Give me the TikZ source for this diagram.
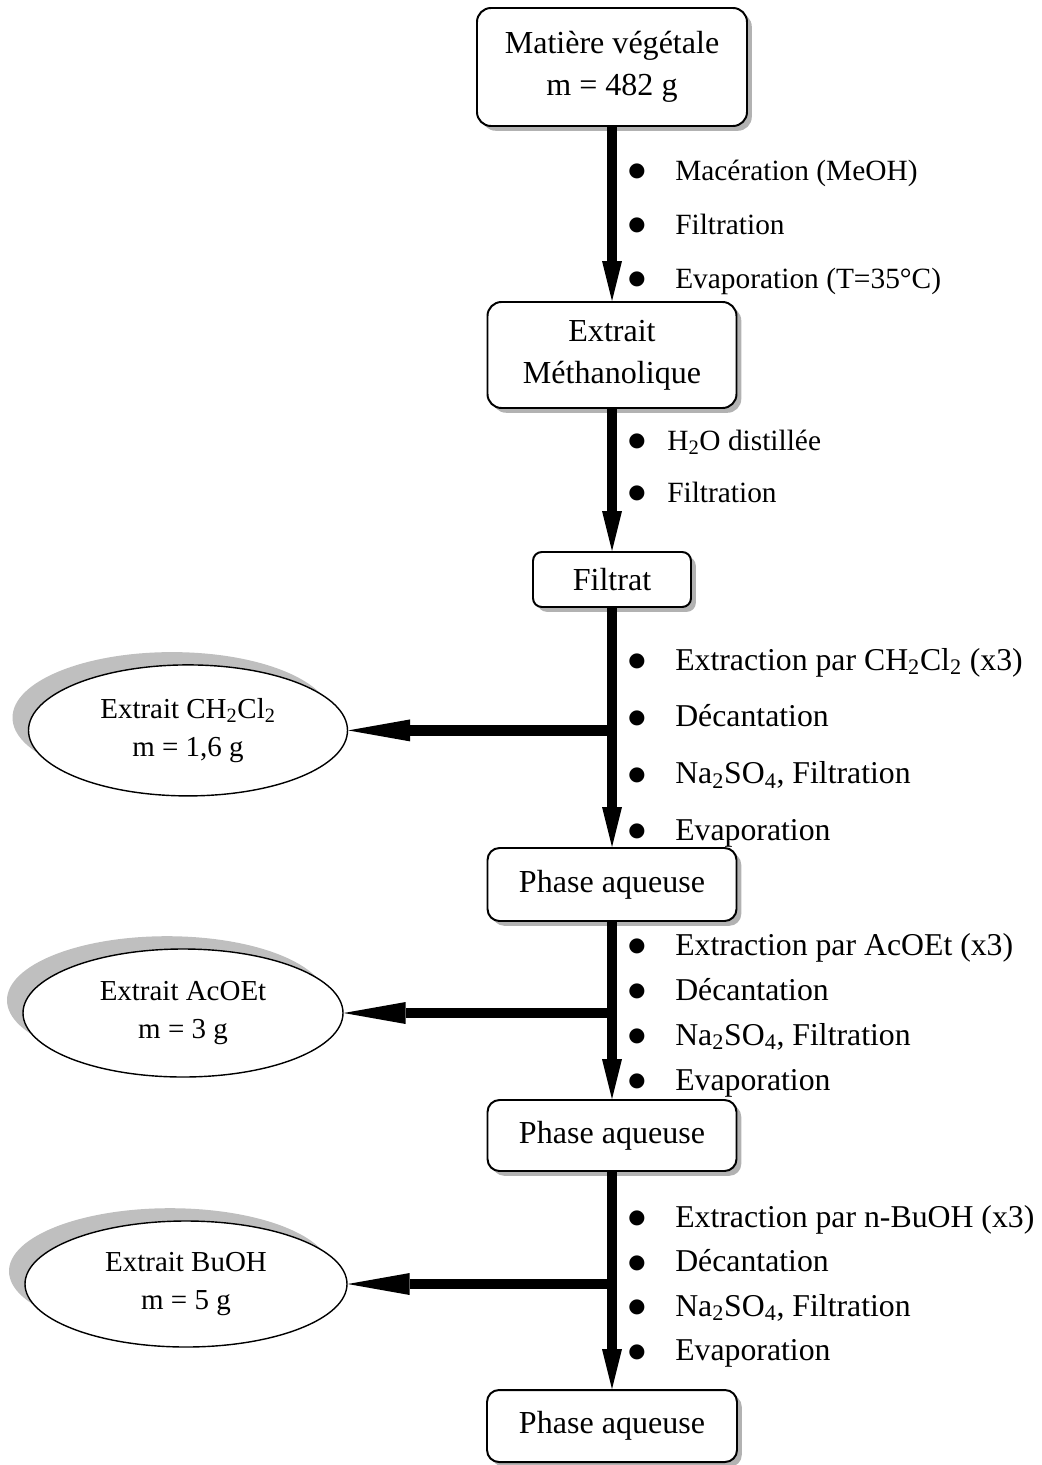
\documentclass[tikz,border=0pt]{standalone}
\usepackage{fontspec}
\setmainfont{Liberation Serif}
\newfontfamily\bulletfont{DejaVu Sans}
\usetikzlibrary{arrows.meta,positioning,shadows,shapes.geometric}
\tikzset{
  stagebox/.style={
    draw,
    line width=1.4pt,
    rounded corners=0.35cm,
    fill=white,
    align=center,
    inner sep=0pt,
    font=\fontsize{22.8}{30}\selectfont,
    drop shadow={shadow xshift=0.12cm, shadow yshift=-0.12cm,
      fill=black!30, opacity=1}
  },
  extractnode/.style={
    ellipse,
    draw,
    line width=1pt,
    fill=white,
    align=center,
    inner sep=0pt,
    font=\fontsize{20.6}{27}\selectfont,
    drop shadow={shadow xshift=-0.4cm, shadow yshift=0.32cm,
      fill=black!25, opacity=1}
  },
  smallstep/.style={
    anchor=base west,
    inner sep=0pt,
    font=\fontsize{20.9}{25}\selectfont
  },
  largestep/.style={
    anchor=base west,
    inner sep=0pt,
    font=\fontsize{22.6}{27}\selectfont
  },
  trunk/.style={
    line width=0.26cm,
    -{Triangle[length=1cm,width=0.5cm,line width=0pt]}
  },
  sidearrow/.style={
    line width=0.27cm,
    -{Triangle[length=1.55cm,width=0.55cm,line width=0pt]}
  }
}
% round bullet, kept at the same size whatever the text size
\newcommand{\stepbullet}{\raisebox{2.4pt}{\bulletfont\fontsize{14}{14}\selectfont ●}}
% bullet list of operations: [gap]{style}{name}{x}{first baseline}{spacing}{items}
\newcommand{\steplist}[7][1.175cm]{%
  \foreach \txt [count=\k] in {#7}{%
    \node[#2] (#3-\k) at (#4,{#5-(\k-1)*#6}) {\makebox[#1][l]{\stepbullet}\txt};
  }%
}

\begin{document}
\begin{tikzpicture}[x=1cm,y=1cm]
\useasboundingbox (0,0) rectangle (26.05,-36.625);

% Main sequence of stages.
\node[stagebox, minimum width=6.75cm, minimum height=2.95cm]
  (matiere) at (15.3,-1.675) {Matière végétale\\m = 482 g};
\node[stagebox, minimum width=6.225cm, minimum height=2.65cm]
  (methanol) at (15.3,-8.875) {Extrait\\Méthanolique};
\node[stagebox, rounded corners=0.22cm, minimum width=3.95cm, minimum height=1.375cm]
  (filtrat) at (15.3,-14.4875) {Filtrat};
\node[stagebox, rounded corners=0.3cm, minimum width=6.225cm, minimum height=1.825cm]
  (aq1) at (15.3,-22.1125) {Phase aqueuse};
\node[stagebox, rounded corners=0.3cm, minimum width=6.225cm, minimum height=1.775cm]
  (aq2) at (15.3,-28.3875) {Phase aqueuse};
\node[stagebox, rounded corners=0.3cm, minimum width=6.25cm, minimum height=1.8cm]
  (aq3) at (15.3,-35.65) {Phase aqueuse};

% Extracts taken off to the left.
\node[extractnode, minimum width=7.975cm, minimum height=3.275cm]
  (ch2cl2) at (4.7,-18.26) {Extrait CH\textsubscript{2}Cl\textsubscript{2}\\m = 1,6 g};
\node[extractnode, minimum width=8cm, minimum height=3.2cm]
  (acoet) at (4.575,-25.325) {Extrait AcOEt\\m = 3 g};
\node[extractnode, minimum width=8.05cm, minimum height=3.15cm]
  (buoh) at (4.65,-32.1) {Extrait BuOH\\m = 5 g};

% Operations beside each step.
\steplist{smallstep}{macer}{15.7}{-4.5}{1.35}{Macération (MeOH), Filtration, Evaporation (T=35°C)}
\steplist[0.975cm]{smallstep}{dilut}{15.7}{-11.25}{1.3}{H\textsubscript{2}O distillée, Filtration}
\steplist{largestep}{sepa}{15.7}{-16.75}{1.4175}{Extraction par CH\textsubscript{2}Cl\textsubscript{2} (x3),
  Décantation, {Na\textsubscript{2}SO\textsubscript{4}, Filtration}, Evaporation}
\steplist{largestep}{sepb}{15.7}{-23.875}{1.125}{Extraction par AcOEt (x3),
  Décantation, {Na\textsubscript{2}SO\textsubscript{4}, Filtration}, Evaporation}
\steplist{largestep}{sepc}{15.7}{-30.675}{1.1125}{Extraction par n-BuOH (x3),
  Décantation, {Na\textsubscript{2}SO\textsubscript{4}, Filtration}, Evaporation}

% Vertical flow.
\draw[trunk] (matiere) -- (methanol);
\draw[trunk] (methanol) -- (filtrat);
\draw[trunk] (filtrat) -- (aq1);
\draw[trunk] (aq1) -- (aq2);
\draw[trunk] (aq2) -- (aq3);

% Side branches to the extracts.
\draw[sidearrow] (ch2cl2.east -| filtrat.south) -- (ch2cl2.east);
\draw[sidearrow] (acoet.east -| aq1.south) -- (acoet.east);
\draw[sidearrow] (buoh.east -| aq2.south) -- (buoh.east);

\end{tikzpicture}
\end{document}
